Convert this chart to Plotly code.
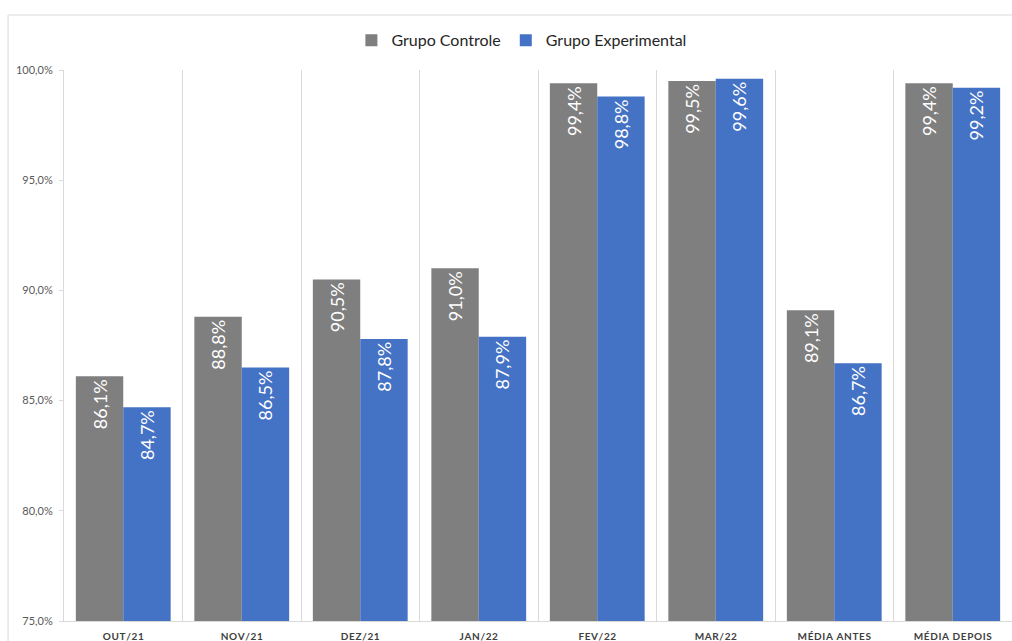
import plotly.graph_objects as go

categories = ["OUT/21", "NOV/21", "DEZ/21", "JAN/22", "FEV/22", "MAR/22", "MÉDIA ANTES", "MÉDIA DEPOIS"]
controle = [0.861, 0.888, 0.905, 0.910, 0.994, 0.995, 0.891, 0.994]
experimental = [0.847, 0.865, 0.878, 0.879, 0.988, 0.996, 0.867, 0.992]
y_ticks = [0.75, 0.80, 0.85, 0.90, 0.95, 1.00]

FONT = "Lato"
fig = go.Figure()
for name, vals, color in [("Grupo Controle", controle, "#7F7F7F"),
                          ("Grupo Experimental", experimental, "#4472C4")]:
    fig.add_trace(go.Bar(
        name=name, x=categories, y=vals, marker=dict(color=color, line=dict(width=0)),
        texttemplate="%{y:.1%}", textposition="inside", insidetextanchor="end",
        textangle=-90, textfont=dict(family=FONT, size=18, color="white"),
        cliponaxis=False,
    ))

tick_text = ["\u200a".join(c) for c in categories]

fig.update_layout(
    width=1012, height=641,
    margin=dict(l=64, r=0, t=70, b=20),
    paper_bgcolor="white", plot_bgcolor="white",
    separators=",.",
    barmode="group", bargap=0.2, bargroupgap=0,
    font=dict(family=FONT, color="#595959"),
    legend=dict(orientation="h", x=0.483, xanchor="center", y=1.054, yanchor="middle",
                font=dict(family=FONT, size=16, color="#262626"),
                traceorder="normal"),
    xaxis=dict(tickson="boundaries", showgrid=True, gridcolor="#D9D9D9", gridwidth=1,
               showline=True, linecolor="#D9D9D9", ticks="",
               tickvals=categories, ticktext=tick_text, ticklabelstandoff=6,
               tickfont=dict(family=FONT, size=10, color="#404040", weight="bold")),
    yaxis=dict(range=[0.75, 1.0], tickvals=y_ticks, tickformat=".1%", showgrid=False,
               showline=True, linecolor="#D9D9D9", ticks="outside", ticklen=4,
               tickcolor="#D9D9D9", zeroline=False, ticklabelstandoff=4,
               tickfont=dict(family=FONT, size=11, color="#595959")),
    shapes=[dict(type="rect", xref="paper", yref="paper", x0=-0.059, x1=1.05,
                 y0=-0.05, y1=1.0998, line=dict(color="#D9D9D9", width=1),
                 fillcolor="rgba(0,0,0,0)", layer="below")],
)

fig.write_html("out.html")
